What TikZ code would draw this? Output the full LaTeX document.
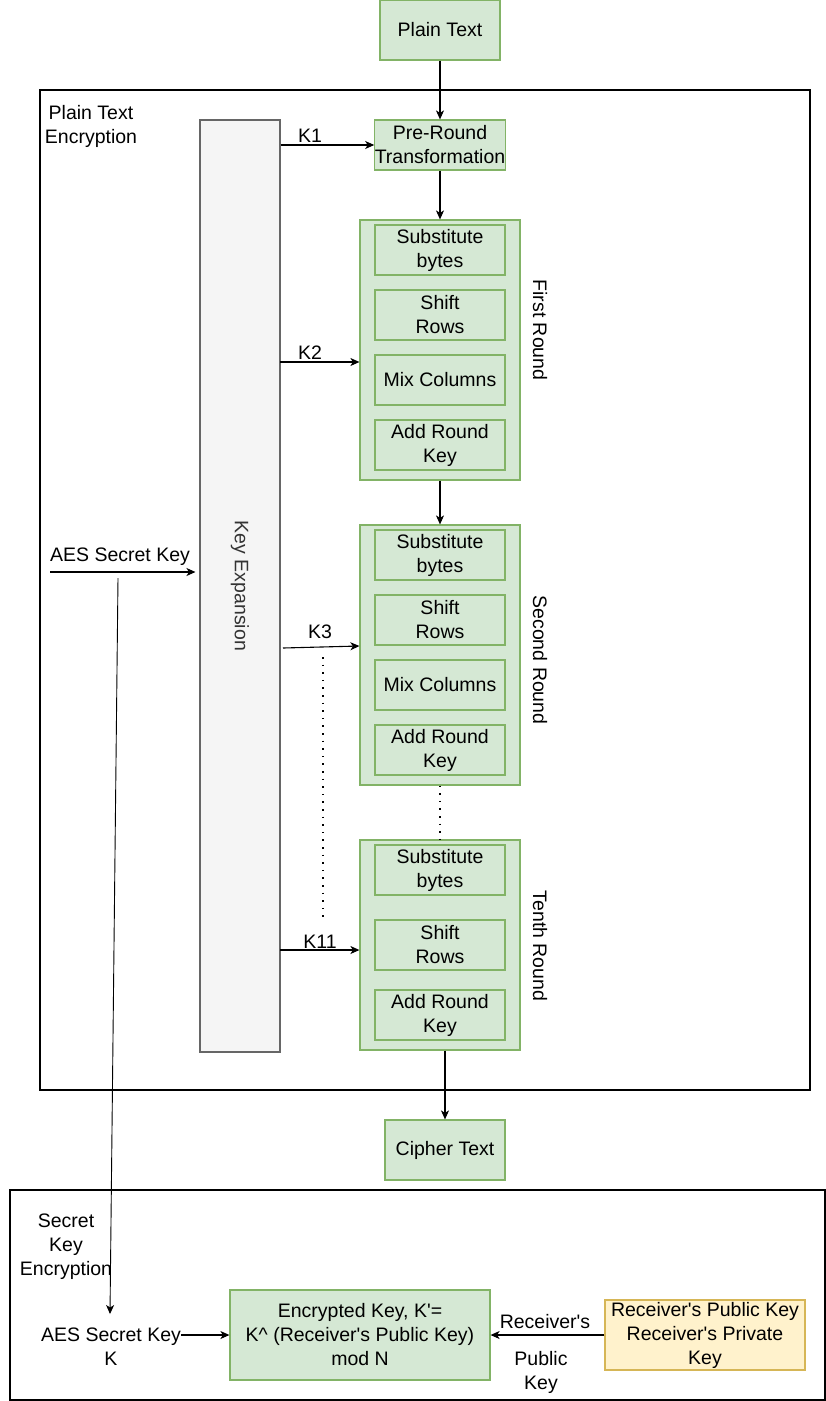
\documentclass[tikz,border=0pt]{standalone}
\usepackage{fontspec}
\setmainfont{Liberation Sans}
\usetikzlibrary{arrows.meta,calc}
\definecolor{gfill}{HTML}{D5E8D4}
\definecolor{gline}{HTML}{82B366}
\definecolor{yfill}{HTML}{FFF2CC}
\definecolor{yline}{HTML}{D6B656}
\definecolor{kfill}{HTML}{F5F5F5}
\definecolor{kline}{HTML}{666666}
\definecolor{ktext}{HTML}{333333}
\newcommand{\apos}{\textquotesingle}

\begin{document}
\begin{tikzpicture}[x=1pt,y=-1pt,
  every node/.style={font=\fontsize{19.5}{24}\selectfont, inner sep=0pt, align=center},
  gbox/.style={rectangle, draw=gline, fill=gfill, line width=1.2pt},
  stepbox/.style={gbox, minimum width=130pt, minimum height=50pt},
  roundbox/.style={gbox, minimum width=160pt},
  frame/.style={rectangle, draw=black, line width=1.2pt},
  arr/.style={line width=1.1pt, -{Stealth[length=9pt,width=8pt,inset=2.5pt]}},
  dotline/.style={line width=1.6pt, dash pattern=on 1.6pt off 6pt}
]
\useasboundingbox (0,0) rectangle (826,1401);

% outer frames
\node[frame, minimum width=770pt, minimum height=1000pt] (encframe) at (425,590) {};
\node[frame, minimum width=815pt, minimum height=210pt] (keyframe) at (417.5,1295) {};

% input / output
\node[gbox, minimum width=120pt, minimum height=60pt] (plain) at (440,30) {Plain Text};
\node[gbox, minimum width=120pt, minimum height=60pt] (cipher) at (445,1150) {Cipher Text};
\node (ptelabel) at (91,126) {Plain Text\\Encryption};

% key schedule column
\node[rectangle, draw=kline, fill=kfill, line width=1.1pt, minimum width=80pt, minimum height=932pt] (kx) at (240,586) {};
\node[rotate=-90, text=ktext] (kxlabel) at (kx.center) {Key Expansion};

% pre-round
\node[stepbox] (pre) at (440,145) {Pre-Round\\Transformation};

% first round
\node[roundbox, minimum height=260pt] (r1) at (440,350) {};
\node[stepbox] (s1) at (440,250) {Substitute\\bytes};
\node[stepbox] (h1) at (440,315) {Shift\\Rows};
\node[stepbox] (m1) at (440,380) {Mix Columns};
\node[stepbox] (a1) at (440,445) {Add Round\\Key};
\node[rotate=-90] (l1) at (540,330) {First Round};

% second round
\node[roundbox, minimum height=260pt] (r2) at (440,655) {};
\node[stepbox] (s2) at (440,555) {Substitute\\bytes};
\node[stepbox] (h2) at (440,620) {Shift\\Rows};
\node[stepbox] (m2) at (440,685) {Mix Columns};
\node[stepbox] (a2) at (440,750) {Add Round\\Key};
\node[rotate=-90] (l2) at (540,660) {Second Round};

% tenth round
\node[roundbox, minimum height=210pt] (r10) at (440,945) {};
\node[stepbox] (s10) at (440,870) {Substitute\\bytes};
\node[stepbox] (h10) at (440,945) {Shift\\Rows};
\node[stepbox] (a10) at (440,1015) {Add Round\\Key};
\node[rotate=-90] (l10) at (540,946) {Tenth Round};

% main data path
\draw[arr] (plain.south) -- (pre.north);
\draw[arr] (pre.south) -- (r1.north);
\draw[arr] (r1.south) -- (r2.north);
\draw[dotline] (r2.south) -- (r10.north);
\draw[arr] (r10.south -| cipher.north) -- (cipher.north);

% round keys
\draw[arr] (kx.east |- pre.west) -- (pre.west);
\node (k1) at (310,136) {K1};
\coordinate (k2s) at (280,362);
\draw[arr] (k2s) -- (k2s -| r1.west);
\node (k2) at (310,353) {K2};
\coordinate (k3s) at (283,648);
\draw[arr] (k3s) -- ($(r2.west)+(0,-9)$);
\node (k3) at (320,632) {K3};
\coordinate (k11s) at (280,950);
\draw[arr] (k11s) -- (k11s -| r10.west);
\node (k11) at (320,942) {K11};
\coordinate (dA) at (323,657);
\coordinate (dB) at (323,922);
\draw[dotline] (dA) -- (dB);

% AES secret key input
\node (aeslabel) at (120,557) {AES Secret Key};
\coordinate (aesA) at (50,572);
\draw[arr] (aesA) -- ($(aesA -| kx.west)+(-4,0)$);

% secret key encryption
\node (skelabel) at (66,1247) {Secret\\Key\\Encryption};
\node (aes2) at (111,1347) {AES Secret Key\\K};
\node[gbox, minimum width=260pt, minimum height=90pt] (enckey) at (360,1335) {Encrypted Key, K\apos=\\K\^{} (Receiver\apos s Public Key)\\mod N};
\node[rectangle, draw=yline, fill=yfill, line width=1.2pt, minimum width=200pt, minimum height=70pt] (rsa) at (705,1335) {Receiver\apos s Public Key\\Receiver\apos s Private\\Key};
\node (rcv1) at (545,1322) {Receiver\apos s};
\node (rcv2) at (541,1372) {Public\\Key};

\coordinate (skA) at (118,578);
\coordinate (skB) at (110,1314);
\draw[arr, line width=0.9pt] (skA) -- (skB);
\draw[arr] (enckey.west -| aes2.east) -- (enckey.west);
\draw[arr] (rsa.west) -- (enckey.east);
\end{tikzpicture}
\end{document}
